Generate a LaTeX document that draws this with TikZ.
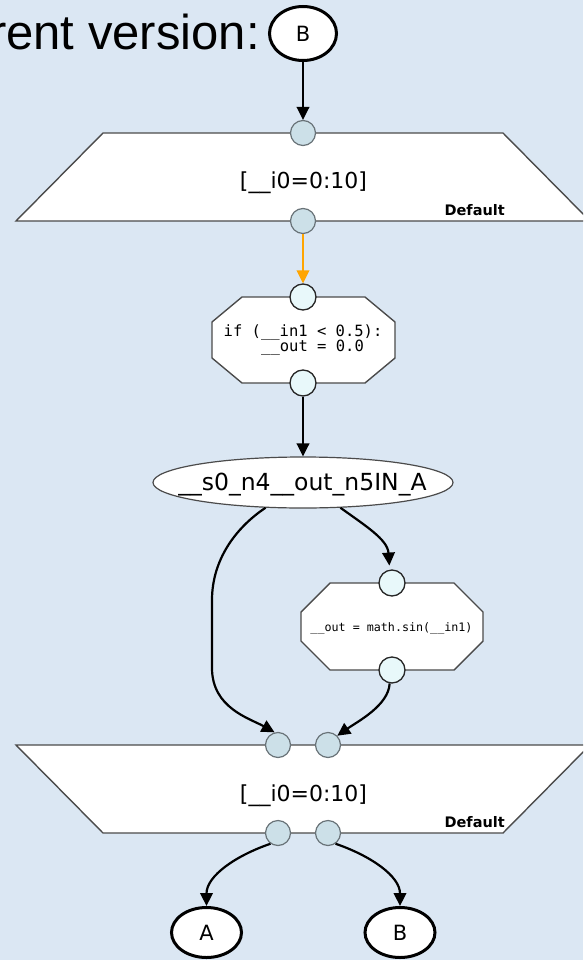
\documentclass[tikz,border=0pt]{standalone}
\usepackage{fontspec}
\setmainfont{DejaVu Sans}
\setmonofont{DejaVu Sans Mono}
\newfontfamily\libsans{Liberation Sans}
\usetikzlibrary{arrows.meta,shapes.geometric}
\definecolor{bgc}{RGB}{219,231,243}
\definecolor{portfill}{RGB}{204,224,232}
\definecolor{portline}{RGB}{105,115,120}
\definecolor{tportfill}{RGB}{232,248,250}
\definecolor{edgec}{RGB}{75,75,75}
\definecolor{orangec}{RGB}{255,165,0}
\begin{document}
\begin{tikzpicture}[x=1pt,y=-1pt,
  port/.style={circle,draw=portline,fill=portfill,line width=1.2pt,minimum size=25pt,inner sep=0pt},
  tport/.style={circle,draw=black!85,fill=tportfill,line width=1.3pt,minimum size=26pt,inner sep=0pt},
  edge/.style={line width=2.2pt,-{Triangle[length=13pt,width=12.5pt]}},
  term/.style={ellipse,draw=black,fill=white,line width=3pt,inner sep=0pt,font=\fontsize{21}{25}\selectfont},
  shapebox/.style={draw=edgec,fill=white,line width=1.4pt,line join=miter},
  txt/.style={inner sep=0pt}]
\clip (0,0) rectangle (583,960);
\fill[bgc] (0,0) rectangle (583,960);

% title
\node[txt,font=\libsans\fontsize{49}{55}\selectfont,anchor=base east] (title) at (260,50) {rent version:};

% top terminal
\node[term,minimum width=67pt,minimum height=54pt] (Btop) at (303,33.5) {B};

% upper map entry
\draw[shapebox] (103,133) -- (503,133) -- (590,221) -- (16,221) -- cycle;
\node[txt,font=\fontsize{22}{26}\selectfont,anchor=base] (l1) at (303.5,188.5) {[\_\_i0=0:10]};
\node[txt,font=\bfseries\fontsize{14.5}{17}\selectfont,anchor=base east] (d1) at (505,215) {Default};
\node[port] (p1) at (303,133) {};
\node[port] (p2) at (303,221) {};

% tasklet 1
\draw[shapebox] (242,297) -- (365,297) -- (395,322) -- (395,358) -- (365,383) -- (242,383) -- (212,358) -- (212,322) -- cycle;
\node[txt,font=\ttfamily\fontsize{15.5}{18}\selectfont,anchor=base west] (c1) at (223.5,336) {if (\_\_in1 < 0.5):};
\node[txt,font=\ttfamily\fontsize{15.5}{18}\selectfont,anchor=base west] (c2) at (261,351.7) {\_\_out = 0.0};
\node[tport] (ta) at (303,297) {};
\node[tport] (tb) at (303,383) {};

% access node
\node[ellipse,draw=edgec,fill=white,line width=1.2pt,minimum width=300pt,minimum height=51pt,inner sep=0pt] (s) at (303,482.5) {};
\node[txt,font=\fontsize{23.5}{28}\selectfont,anchor=base] (st) at (302.5,490) {\_\_s0\_n4\_\_out\_n5IN\_A};

% tasklet 2
\draw[shapebox] (330,583) -- (454,583) -- (483,612) -- (483,641) -- (454,670) -- (330,670) -- (301,641) -- (301,612) -- cycle;
\node[txt,font=\ttfamily\fontsize{11.7}{14}\selectfont,anchor=base] (c3) at (391.5,631.7) {\_\_out = math.sin(\_\_in1)};
\node[tport] (sa) at (392,583) {};
\node[tport] (sb) at (392,670) {};

% lower map exit
\draw[shapebox] (16,745) -- (590,745) -- (503,833) -- (103,833) -- cycle;
\node[txt,font=\fontsize{22}{26}\selectfont,anchor=base] (l2) at (303.5,801.5) {[\_\_i0=0:10]};
\node[txt,font=\bfseries\fontsize{14.5}{17}\selectfont,anchor=base east] (d2) at (505,827) {Default};
\node[port] (q1) at (278,745) {};
\node[port] (q2) at (328,745) {};
\node[port] (q3) at (278,833) {};
\node[port] (q4) at (328,833) {};

% bottom terminals
\node[term,minimum width=70pt,minimum height=50pt] (A) at (206.5,932.5) {A};
\node[term,minimum width=70pt,minimum height=50pt] (Bb) at (400,932.5) {B};

% edges
\coordinate (lv) at (212,600);
\coordinate (lv2) at (212,668);
\draw[edge] (Btop) -- (p1);
\draw[edge,draw=orangec] (p2) -- (ta);
\draw[edge] (tb) -- (s);
\draw[edge] (s.-146) .. controls +(-30,20) and +(0,-40) .. (lv) -- (lv2) .. controls +(0,40) and +(-25,-14) .. (q1.105);
\draw[edge,shorten >=4pt] (s.-34) .. controls +(25,18) and +(-2,-30) .. (sa.100);
\draw[edge] (sb.-100) .. controls +(-1,22) and +(20,-14) .. (q2.45);
\draw[edge] (q3.-125) .. controls +(-35,12) and +(0,-30) .. (A.north);
\draw[edge] (q4.-55) .. controls +(35,12) and +(0,-30) .. (Bb.north);
\end{tikzpicture}
\end{document}
